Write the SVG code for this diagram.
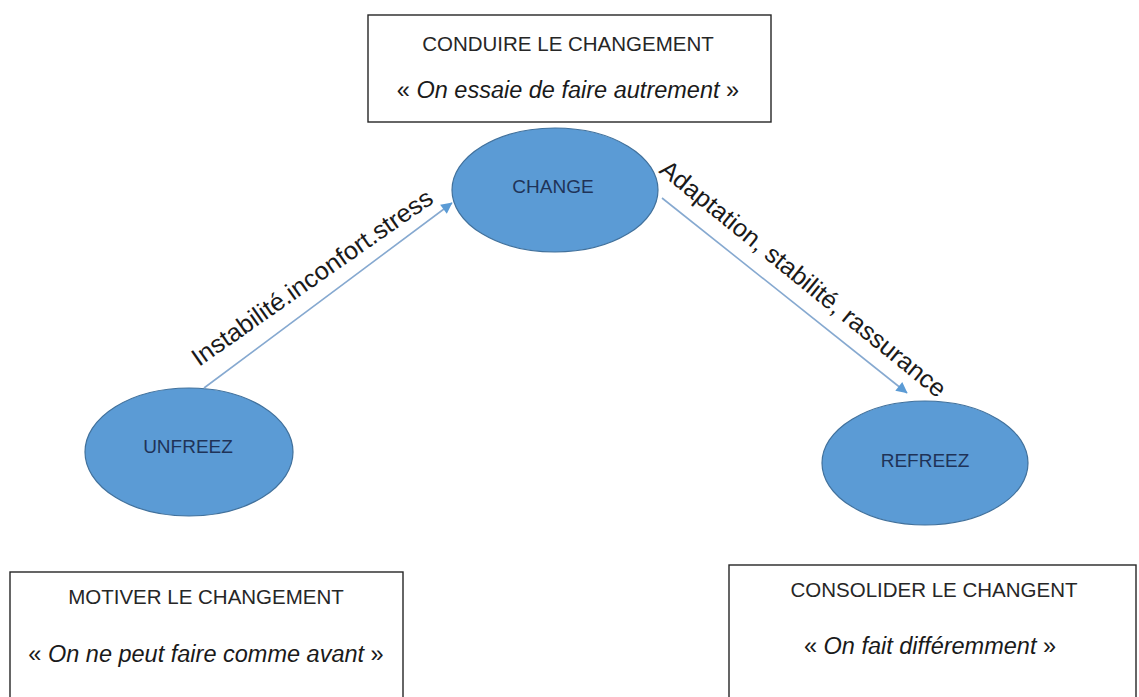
<svg xmlns="http://www.w3.org/2000/svg" width="1139" height="697" viewBox="0 0 1139 697">
  <style>
    .box { fill: #ffffff; stroke: #262626; stroke-width: 1.4; }
    .ell { fill: #5b9bd5; stroke: #41719c; stroke-width: 1.2; }
    .head { font-family: "Liberation Sans", Arial, sans-serif; font-size: 20.5px; fill: #262626; text-anchor: middle; }
    .quote { font-family: "Liberation Sans", Arial, sans-serif; font-size: 23.5px; fill: #1a1a1a; text-anchor: middle; }
    .quote tspan.i { font-style: italic; }
    .node { font-family: "Liberation Sans", Arial, sans-serif; font-size: 19px; fill: #1f3358; text-anchor: middle; }
    .lbl { font-family: "Liberation Sans", Arial, sans-serif; font-size: 25px; fill: #1a1a1a; }
    .conn { stroke: #86a9d0; stroke-width: 1.6; fill: none; }
  </style>
  <defs>
    <marker id="arrow" viewBox="0 0 10 10" refX="9" refY="5" markerWidth="8" markerHeight="8" markerUnits="userSpaceOnUse" orient="auto" overflow="visible">
      <path d="M0,0 L10,5 L0,10 Z" fill="#5b9bd5" transform="scale(1.4) translate(-3,-1.5)"/>
    </marker>
  </defs>
  <rect width="1139" height="697" fill="#ffffff"/>

  <g id="box-conduire">
    <rect class="box" x="368" y="15" width="403" height="107"/>
    <text class="head" x="568" y="51">CONDUIRE LE CHANGEMENT</text>
    <text class="quote" x="568" y="98">« <tspan class="i">On essaie de faire autrement</tspan> »</text>
  </g>

  <g id="box-motiver">
    <rect class="box" x="10" y="572" width="393" height="140"/>
    <text class="head" x="206" y="604">MOTIVER LE CHANGEMENT</text>
    <text class="quote" x="206" y="662">« <tspan class="i">On ne peut faire comme avant</tspan> »</text>
  </g>

  <g id="box-consolider">
    <rect class="box" x="729" y="565" width="407" height="150"/>
    <text class="head" x="934" y="597">CONSOLIDER LE CHANGENT</text>
    <text class="quote" x="930" y="654">« <tspan class="i">On fait différemment</tspan> »</text>
  </g>

  <g id="node-change">
    <ellipse class="ell" cx="555" cy="190" rx="103" ry="62"/>
    <text class="node" x="553" y="193">CHANGE</text>
  </g>

  <g id="node-unfreez">
    <ellipse class="ell" cx="189" cy="452" rx="104" ry="64"/>
    <text class="node" x="188" y="453">UNFREEZ</text>
  </g>

  <g id="node-refreez">
    <ellipse class="ell" cx="925" cy="463" rx="103" ry="62"/>
    <text class="node" x="925" y="467">REFREEZ</text>
  </g>

  <g id="connectors">
    <line class="conn" x1="204" y1="388" x2="452" y2="203" marker-end="url(#arrow)"/>
    <line class="conn" x1="662" y1="198" x2="907" y2="393" marker-end="url(#arrow)"/>
    <text class="lbl" transform="translate(199,367) rotate(-35)" textLength="288" lengthAdjust="spacingAndGlyphs">Instabilité.inconfort.stress</text>
    <text class="lbl" transform="translate(658,172) rotate(39)" textLength="360" lengthAdjust="spacingAndGlyphs">Adaptation, stabilité, rassurance</text>
  </g>
</svg>
